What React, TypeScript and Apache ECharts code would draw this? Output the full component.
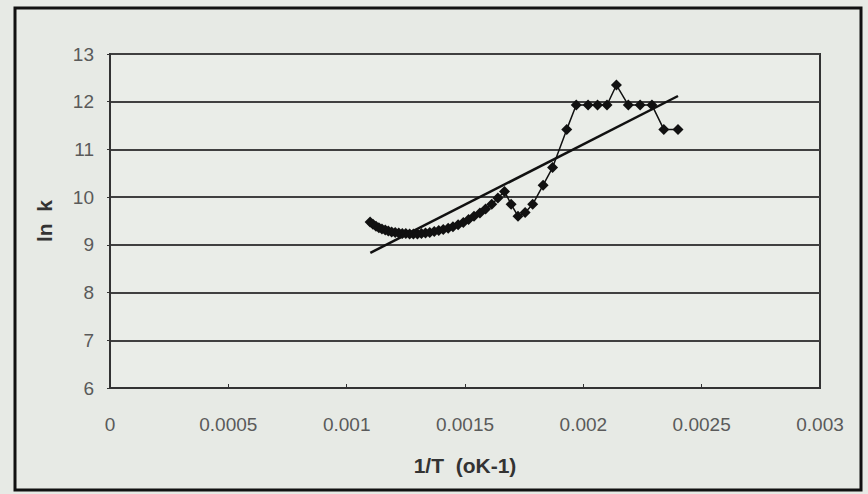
import React, { useEffect, useRef } from "react";
import * as echarts from "echarts";

// 1/T (K^-1) and ln k
const invT = [
  0.001099, 0.001111, 0.001124, 0.001136, 0.001149, 0.001163, 0.001176, 0.00119,
  0.001205, 0.00122, 0.001235, 0.00125, 0.001266, 0.001282, 0.001299, 0.001316,
  0.001333, 0.001351, 0.00137, 0.001389, 0.001408, 0.001429, 0.001449, 0.001471,
  0.001493, 0.001515, 0.001538, 0.001563, 0.001587, 0.001613, 0.001639, 0.001667,
  0.001695, 0.001724, 0.001754, 0.001786, 0.00183, 0.00187, 0.00193, 0.00197,
  0.00202, 0.00206, 0.0021, 0.00214, 0.00219, 0.00224, 0.00229, 0.00234, 0.0024,
];
const lnK = [
  9.48, 9.43, 9.39, 9.36, 9.33, 9.31, 9.29, 9.27,
  9.26, 9.25, 9.24, 9.24, 9.23, 9.23, 9.23, 9.24,
  9.25, 9.26, 9.28, 9.3, 9.32, 9.35, 9.38, 9.42,
  9.47, 9.53, 9.6, 9.67, 9.75, 9.85, 9.98, 10.12,
  9.85, 9.6, 9.68, 9.85, 10.25, 10.62, 11.42, 11.93,
  11.93, 11.93, 11.93, 12.35, 11.93, 11.93, 11.93, 11.42, 11.42,
];
// linear trend line end points
const trendX = [0.0011, 0.0024];
const trendY = [8.83, 12.12];

const yTicks = [6, 7, 8, 9, 10, 11, 12, 13];
const xTicks = [0, 0.0005, 0.001, 0.0015, 0.002, 0.0025, 0.003];

export default function App() {
  const ref = useRef<HTMLDivElement>(null);
  useEffect(() => {
    if (!ref.current) return;
    const chart = echarts.init(ref.current, null, { renderer: "svg" });
    const font = "Liberation Sans, Arial, sans-serif";
    chart.setOption({
      animation: false,
      backgroundColor: "#e7eae5",
      textStyle: { fontFamily: font },
      graphic: [
        {
          type: "rect",
          shape: { x: 15, y: 8, width: 846, height: 482 },
          style: { fill: "none", stroke: "#111", lineWidth: 3 },
          silent: true,
        },
      ],
      grid: {
        left: 110,
        right: 48,
        top: 54,
        bottom: 106,
        show: true,
        backgroundColor: "#eaede8",
        borderColor: "#333",
        borderWidth: 2,
      },
      xAxis: {
        type: "value",
        min: xTicks[0],
        max: xTicks[xTicks.length - 1],
        interval: 0.0005,
        name: "1/T  (oK-1)",
        nameLocation: "middle",
        nameGap: 67,
        nameTextStyle: { fontSize: 21, fontWeight: "bold", color: "#333", fontFamily: font },
        axisLine: { show: true, lineStyle: { color: "#333", width: 2 } },
        axisTick: { show: true, inside: true, length: 4, lineStyle: { color: "#333" } },
        splitLine: { show: false },
        axisLabel: {
          fontSize: 19,
          color: "#5a5a5a",
          margin: 27,
          fontFamily: font,
          formatter: (v: number) => String(v),
        },
      },
      yAxis: {
        type: "value",
        min: yTicks[0],
        max: yTicks[yTicks.length - 1],
        interval: 1,
        name: "ln  k",
        nameLocation: "middle",
        nameGap: 55,
        nameTextStyle: { fontSize: 21, fontWeight: "bold", color: "#333", fontFamily: font },
        axisLine: { show: true, lineStyle: { color: "#333", width: 2 } },
        axisTick: { show: true, inside: false, length: 3, lineStyle: { color: "#333" } },
        splitLine: { show: true, lineStyle: { color: "#404040", width: 2 } },
        axisLabel: { fontSize: 19, color: "#5a5a5a", margin: 16, fontFamily: font },
      },
      series: [
        {
          type: "line",
          data: invT.map((x, i) => [x, lnK[i]]),
          symbol: "diamond",
          symbolSize: 11,
          itemStyle: { color: "#111" },
          lineStyle: { color: "#111", width: 1.5 },
          z: 3,
        },
        {
          type: "line",
          data: trendX.map((x, i) => [x, trendY[i]]),
          symbol: "none",
          lineStyle: { color: "#111", width: 2.5 },
          z: 4,
        },
      ],
    });
    return () => chart.dispose();
  }, []);
  return (
    <div
      ref={ref}
      style={{ position: "fixed", left: 0, top: 0, width: 868, height: 494 }}
    />
  );
}
